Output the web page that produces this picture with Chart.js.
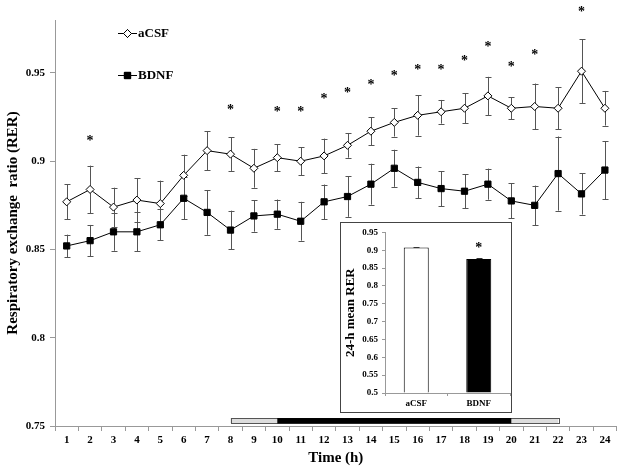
<!DOCTYPE html>
<html>
<head>
<meta charset="utf-8">
<script src="https://cdn.jsdelivr.net/npm/chart.js@4.4.0/dist/chart.umd.min.js"></script>
<style>
  body { margin: 0; background: #fff; }
  #wrap { position: relative; width: 622px; height: 471px; }
  #inset { position: absolute; left: 340px; top: 222px; border: 1px solid #444; background: #fff; width: 170px; height: 189px; }
</style>
</head>
<body>
<div id="wrap">
  <canvas id="myChart" width="622" height="471"></canvas>
  <div id="inset"><canvas id="insetChart" width="170" height="189"></canvas></div>
</div>
<script>
  const hours = ['1','2','3','4','5','6','7','8','9','10','11','12','13','14','15','16','17','18','19','20','21','22','23','24'];
  const aCSF = [0.877, 0.884, 0.874, 0.878, 0.876, 0.892, 0.906, 0.904, 0.896, 0.902, 0.900, 0.903,
                0.909, 0.917, 0.922, 0.926, 0.928, 0.930, 0.937, 0.930, 0.931, 0.930, 0.951, 0.930];
  const aCSFErr = [0.010, 0.0135, 0.011, 0.0125, 0.013, 0.0117, 0.011, 0.0095, 0.011, 0.0076, 0.0078, 0.0098,
                   0.007, 0.008, 0.008, 0.0115, 0.0067, 0.0085, 0.0108, 0.0063, 0.013, 0.012, 0.018, 0.0098];
  const bdnf = [0.852, 0.855, 0.860, 0.860, 0.864, 0.879, 0.871, 0.861, 0.869, 0.870, 0.866, 0.877,
                0.880, 0.887, 0.896, 0.888, 0.8845, 0.883, 0.887, 0.8775, 0.875, 0.893, 0.8815, 0.895];
  const bdnfErr = [0.0064, 0.0089, 0.0107, 0.011, 0.0088, 0.012, 0.0127, 0.011, 0.0089, 0.0083, 0.011, 0.0098,
                   0.0115, 0.0116, 0.0105, 0.009, 0.0099, 0.0095, 0.0088, 0.0099, 0.0112, 0.021, 0.0117, 0.0164];
  // significance stars (hour, height)
  const starHours = ['2','8','10','11','12','13','14','15','16','17','18','19','20','21','23'];
  const starY = [0.9134, 0.9308, 0.9297, 0.9297, 0.9374, 0.9408, 0.9453, 0.9502, 0.9536, 0.9536, 0.9586, 0.9666, 0.9555, 0.9624, 0.9863];
  // light / dark phase bar along the x axis
  const lightPhase = ['8', '22'];
  const darkPhase = ['10', '20'];
  const phaseLevel = 0.7531;
  const yTicks = [0.75, 0.8, 0.85, 0.9, 0.95];

  // inset
  const groups = ['aCSF', 'BDNF'];
  const meanRER = [0.908, 0.8753];
  const meanErr = [0.0018, 0.0028];
  const insetStar = [null, 0.9165];

  const serif = "'Liberation Serif', 'Times New Roman', serif";

  const errorBars = {
    id: 'errorBars',
    beforeDatasetsDraw(chart, args, opts) {
      const ctx = chart.ctx;
      const y = chart.scales.y;
      ctx.save();
      ctx.strokeStyle = '#555';
      ctx.lineWidth = 1;
      chart.data.datasets.forEach((ds, di) => {
        if (!ds.err) return;
        chart.getDatasetMeta(di).data.forEach((pt, i) => {
          const x = Math.round(pt.x) + 0.5;
          const t = y.getPixelForValue(ds.data[i] + ds.err[i]);
          const b = y.getPixelForValue(ds.data[i] - ds.err[i]);
          const c = opts.cap || 3;
          ctx.beginPath();
          ctx.moveTo(x, t); ctx.lineTo(x, b);
          ctx.moveTo(x - c, Math.round(t) + 0.5); ctx.lineTo(x + c, Math.round(t) + 0.5);
          ctx.moveTo(x - c, Math.round(b) + 0.5); ctx.lineTo(x + c, Math.round(b) + 0.5);
          ctx.stroke();
        });
      });
      ctx.restore();
    }
  };

  const extras = {
    id: 'extras',
    afterDraw(chart) {
      const ctx = chart.ctx;
      const x = chart.scales.x, y = chart.scales.y;
      ctx.save();
      // phase bar
      const yc = y.getPixelForValue(phaseLevel);
      const lx0 = x.getPixelForValue(hours.indexOf(lightPhase[0]));
      const lx1 = x.getPixelForValue(hours.indexOf(lightPhase[1]));
      const dx0 = x.getPixelForValue(hours.indexOf(darkPhase[0]));
      const dx1 = x.getPixelForValue(hours.indexOf(darkPhase[1]));
      ctx.fillStyle = '#ddd';
      ctx.strokeStyle = '#555';
      ctx.lineWidth = 1;
      ctx.fillRect(lx0, yc - 2.5, lx1 - lx0, 5);
      ctx.strokeRect(Math.round(lx0) + 0.5, Math.round(yc - 2.5) + 0.5, Math.round(lx1 - lx0), 5);
      ctx.fillStyle = '#000';
      ctx.fillRect(dx0, yc - 2.5, dx1 - dx0, 5.5);
      // stars
      ctx.font = 'bold 14px ' + serif;
      ctx.textAlign = 'center';
      ctx.textBaseline = 'alphabetic';
      starHours.forEach((h, i) => {
        ctx.fillText('*', x.getPixelForValue(hours.indexOf(h)), y.getPixelForValue(starY[i]) + 7.5);
      });
      // legend
      ctx.font = 'bold 13px ' + serif;
      ctx.textAlign = 'left';
      ctx.textBaseline = 'middle';
      const lx = chart.chartArea.left + 63;
      [33, 75].forEach((ly, di) => {
        const ds = chart.data.datasets[di];
        ctx.strokeStyle = '#000';
        ctx.beginPath();
        ctx.moveTo(lx, ly + 0.5); ctx.lineTo(lx + 19, ly + 0.5);
        ctx.stroke();
        Chart.helpers.drawPoint(ctx, {
          pointStyle: ds.pointStyle, radius: ds.pointRadius, borderWidth: 1
        }, lx + 9.5, ly + 0.5);
        ctx.fillStyle = ds.pointBackgroundColor;
        ctx.fill();
        ctx.stroke();
        ctx.fillStyle = '#000';
        ctx.fillText(ds.label, lx + 20, ly + 1);
      });
      ctx.restore();
    }
  };

  const config = {
    type: 'line',
    data: {
      labels: hours,
      datasets: [{
        label: 'aCSF',
        data: aCSF,
        err: aCSFErr,
        borderColor: '#000',
        borderWidth: 1,
        pointStyle: 'rectRot',
        pointRadius: 4,
        pointBackgroundColor: '#fff',
        pointBorderColor: '#000',
        pointBorderWidth: 1,
      }, {
        label: 'BDNF',
        data: bdnf,
        err: bdnfErr,
        borderColor: '#000',
        borderWidth: 1,
        pointStyle: 'rect',
        pointRadius: 4.4,
        pointBackgroundColor: '#000',
        pointBorderColor: '#000',
        pointBorderWidth: 1,
      }]
    },
    options: {
      responsive: false,
      animation: false,
      layout: { padding: { top: 20, right: 5, left: 0, bottom: 0 } },
      plugins: {
        legend: { display: false },
        tooltip: { enabled: false },
        errorBars: { cap: 3 }
      },
      scales: {
        x: {
          offset: true,
          grid: { offset: true, drawOnChartArea: false, tickLength: 5, color: '#999' },
          border: { color: '#999' },
          ticks: { color: '#000', font: { family: serif, size: 11, weight: 'bold' }, padding: 3, maxRotation: 0, autoSkip: false },
          title: { display: true, text: 'Time (h)', color: '#000', font: { family: serif, size: 15, weight: 'bold' }, padding: { top: 2, bottom: 4 } },
          afterFit(s) { s.height = 45; }
        },
        y: {
          min: 0.75,
          max: 0.98,
          afterBuildTicks(s) { s.ticks = yTicks.map(v => ({ value: v })); },
          grid: { drawOnChartArea: false, tickLength: 5, color: '#999' },
          border: { color: '#999' },
          ticks: { color: '#000', font: { family: serif, size: 11, weight: 'bold' }, padding: 5, callback: v => String(+v.toFixed(2)) },
          title: { display: true, text: 'Respiratory exchange  ratio (RER)', color: '#000', font: { family: serif, size: 15, weight: 'bold' }, padding: 4 },
          afterFit(s) { s.width = 55; }
        }
      }
    },
    plugins: [errorBars, extras]
  };

  var myChart = new Chart(document.getElementById('myChart'), config);

  // inset: 24-h mean
  const insetExtras = {
    id: 'insetExtras',
    afterDatasetsDraw(chart) {
      const ctx = chart.ctx;
      const y = chart.scales.y;
      ctx.save();
      ctx.strokeStyle = '#333';
      ctx.lineWidth = 1;
      chart.getDatasetMeta(0).data.forEach((bar, i) => {
        const x = Math.round(bar.x) + 0.5;
        const t = Math.round(y.getPixelForValue(meanRER[i] + meanErr[i])) + 0.5;
        ctx.beginPath();
        ctx.moveTo(x, bar.y); ctx.lineTo(x, t);
        ctx.moveTo(x - 3, t); ctx.lineTo(x + 3, t);
        ctx.stroke();
        if (insetStar[i] != null) {
          ctx.fillStyle = '#000';
          ctx.font = 'bold 14px ' + serif;
          ctx.textAlign = 'center';
          ctx.fillText('*', bar.x, y.getPixelForValue(insetStar[i]) + 7.5);
        }
      });
      ctx.restore();
    }
  };

  var insetChart = new Chart(document.getElementById('insetChart'), {
    type: 'bar',
    data: {
      labels: groups,
      datasets: [{
        data: meanRER,
        backgroundColor: ['#fff', '#000'],
        borderColor: '#000',
        borderWidth: 1,
        barPercentage: 0.4,
        categoryPercentage: 1,
        base: 0.5
      }]
    },
    options: {
      responsive: false,
      animation: false,
      layout: { padding: { top: 6, right: 1, left: 0, bottom: 0 } },
      plugins: { legend: { display: false }, tooltip: { enabled: false } },
      scales: {
        x: {
          grid: { offset: true, drawOnChartArea: false, tickLength: 3, color: '#999' },
          border: { color: '#999' },
          ticks: { color: '#000', font: { family: serif, size: 9, weight: 'bold' }, padding: 2 },
          afterFit(s) { s.height = 19; }
        },
        y: {
          min: 0.5,
          max: 0.95,
          ticks: { stepSize: 0.05, color: '#000', font: { family: serif, size: 9, weight: 'bold' }, padding: 4, callback: v => String(+v.toFixed(2)) },
          grid: { drawOnChartArea: false, tickLength: 3, color: '#999' },
          border: { color: '#999' },
          title: { display: true, text: '24-h mean RER', color: '#000', font: { family: serif, size: 13, weight: 'bold' }, padding: 2 },
          afterFit(s) { s.width = 44; }
        }
      }
    },
    plugins: [insetExtras]
  });
</script>
</body>
</html>
